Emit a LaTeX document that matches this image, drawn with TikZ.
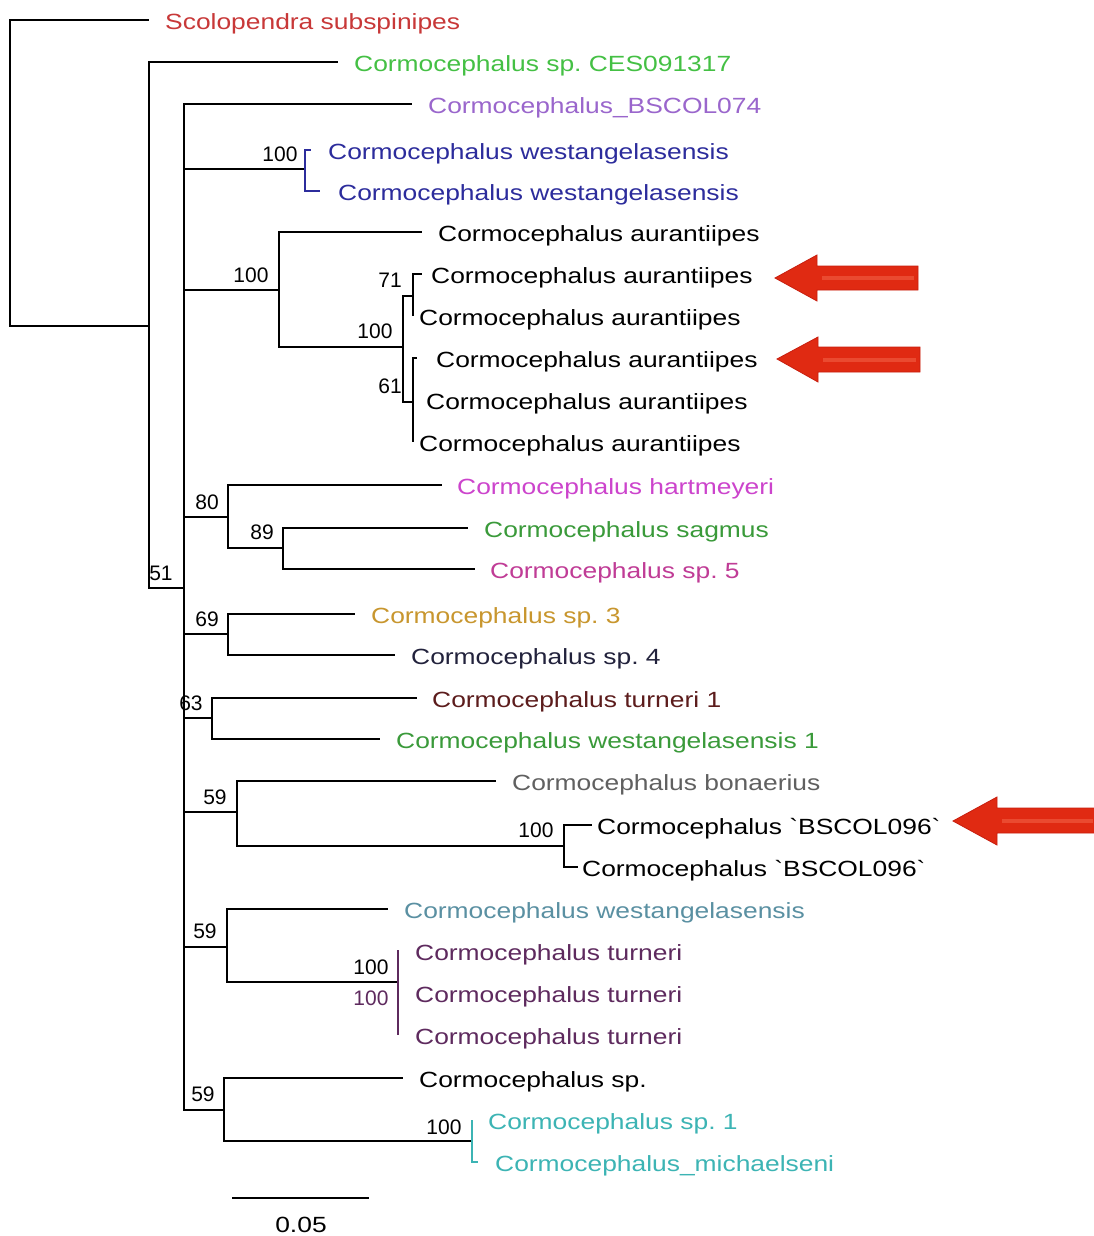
\documentclass[tikz,border=0pt]{standalone}
\usepackage{fontspec}
\setmainfont{Liberation Sans}[FakeStretch=1.2, Ligatures=TeXOff]
\newfontfamily\numfont{Liberation Sans}
\frenchspacing
\definecolor{cScol}{HTML}{C83838}
\definecolor{cCES}{HTML}{44C044}
\definecolor{cBsf}{HTML}{9A66CC}
\definecolor{cWblue}{HTML}{2C2C9C}
\definecolor{cHart}{HTML}{CC44CC}
\definecolor{cSag}{HTML}{3A9A3A}
\definecolor{cSpf}{HTML}{C03C96}
\definecolor{cSpt}{HTML}{C8962E}
\definecolor{cSpq}{HTML}{22223C}
\definecolor{cTuro}{HTML}{5C1C1C}
\definecolor{cWo}{HTML}{3A9A3A}
\definecolor{cBon}{HTML}{606060}
\definecolor{cWsteel}{HTML}{5A90A2}
\definecolor{cTur}{HTML}{5E2A5E}
\definecolor{cTeal}{HTML}{3CB4B4}
\definecolor{cArrow}{HTML}{E02A12}
\definecolor{cArrowEdge}{HTML}{C81E0E}
\definecolor{cArrowHi}{HTML}{EA4A30}
\tikzset{
  br/.style={line width=1.8pt, line join=miter},
  leaf/.style={anchor=base west, inner sep=0pt, font=\fontsize{22}{26}\selectfont},
  bs/.style={anchor=center, inner sep=0pt, font=\numfont\fontsize{21}{24}\selectfont},
  bigarrow/.style={fill=cArrow, draw=cArrowEdge, line width=0.8pt, line join=miter},
  arrowhi/.style={draw=cArrowHi, line width=4pt}
}
\begin{document}
\begin{tikzpicture}[x=1pt, y=-1pt]
\useasboundingbox (0,0) rectangle (1093,1236);
\fill[white] (0,0) rectangle (1093,1236);

% ---- internal nodes
\coordinate (r) at (10,173);
\coordinate (n1) at (149,326);
\coordinate (n2) at (184,588);
\coordinate (w) at (305,169);
\coordinate (au) at (279,290);
\coordinate (au2) at (403,347);
\coordinate (c71) at (413,296);
\coordinate (c61) at (413,402);
\coordinate (c80) at (228,517);
\coordinate (c89) at (283,548);
\coordinate (c69) at (228,634);
\coordinate (c63) at (212,718);
\coordinate (c59a) at (237,812);
\coordinate (cB) at (564,846);
\coordinate (c59b) at (227,947);
\coordinate (cT) at (398,982);
\coordinate (c59c) at (224,1110);
\coordinate (cS) at (472,1141);

% ---- tips
\coordinate (t1) at (149,20);
\coordinate (t2) at (338,62);
\coordinate (t3) at (412,104);
\coordinate (t4) at (311,150);
\coordinate (t5) at (320,191);
\coordinate (t6) at (422,232);
\coordinate (t7) at (422,274);
\coordinate (t8) at (413,316);
\coordinate (t9) at (417,358);
\coordinate (t10) at (413,400);
\coordinate (t11) at (413,442);
\coordinate (t12) at (442,485);
\coordinate (t13) at (468,528);
\coordinate (t14) at (475,569);
\coordinate (t15) at (355,614);
\coordinate (t16) at (395,655);
\coordinate (t17) at (417,698);
\coordinate (t18) at (380,739);
\coordinate (t19) at (496,781);
\coordinate (t20) at (592,825);
\coordinate (t21) at (578,867);
\coordinate (t22) at (388,909);
\coordinate (t23) at (398,950);
\coordinate (t25) at (398,1035);
\coordinate (t26) at (403,1078);
\coordinate (t27) at (472,1120);
\coordinate (t28) at (478,1162);

% ---- branches
\draw[br] (r) |- (t1);
\draw[br] (r) |- (n1);
\draw[br] (n1) |- (t2);
\draw[br] (n1) |- (n2);
\foreach \c in {t3,w,au,c80,c69,c63,c59a,c59b,c59c}
  \draw[br] (n2) |- (\c);
\draw[br, cWblue] (w) |- (t4);
\draw[br, cWblue] (w) |- (t5);
\draw[br] (au) |- (t6);
\draw[br] (au) |- (au2);
\draw[br] (au2) |- (c71);
\draw[br] (au2) |- (c61);
\draw[br] (c71) |- (t7);
\draw[br] (c71) |- (t8);
\draw[br] (c61) |- (t9);
\draw[br] (c61) |- (t11);
\draw[br] (c80) |- (t12);
\draw[br] (c80) |- (c89);
\draw[br] (c89) |- (t13);
\draw[br] (c89) |- (t14);
\draw[br] (c69) |- (t15);
\draw[br] (c69) |- (t16);
\draw[br] (c63) |- (t17);
\draw[br] (c63) |- (t18);
\draw[br] (c59a) |- (t19);
\draw[br] (c59a) |- (cB);
\draw[br] (cB) |- (t20);
\draw[br] (cB) |- (t21);
\draw[br] (c59b) |- (t22);
\draw[br] (c59b) |- (cT);
\draw[br, cTur] (t23) -- (t25);
\draw[br] (c59c) |- (t26);
\draw[br] (c59c) |- (cS);
\draw[br, cTeal] (cS) |- (t27);
\draw[br, cTeal] (cS) |- (t28);

% ---- leaf labels
\node[leaf, text=cScol] (L1) at (165,29.5) {Scolopendra subspinipes};
\node[leaf, text=cCES] (L2) at (354,71.5) {Cormocephalus sp. CES091317};
\node[leaf, text=cBsf] (L3) at (428,113.5) {Cormocephalus\_BSCOL074};
\node[leaf, text=cWblue] (L4) at (328,159.5) {Cormocephalus westangelasensis};
\node[leaf, text=cWblue] (L5) at (338,200.5) {Cormocephalus westangelasensis};
\node[leaf] (L6) at (438,241.5) {Cormocephalus aurantiipes};
\node[leaf] (L7) at (431,283.5) {Cormocephalus aurantiipes};
\node[leaf] (L8) at (419,325.5) {Cormocephalus aurantiipes};
\node[leaf] (L9) at (436,367.5) {Cormocephalus aurantiipes};
\node[leaf] (L10) at (426,409.5) {Cormocephalus aurantiipes};
\node[leaf] (L11) at (419,451.5) {Cormocephalus aurantiipes};
\node[leaf, text=cHart] (L12) at (457,494.5) {Cormocephalus hartmeyeri};
\node[leaf, text=cSag] (L13) at (484,537.5) {Cormocephalus sagmus};
\node[leaf, text=cSpf] (L14) at (490,578.5) {Cormocephalus sp. 5};
\node[leaf, text=cSpt] (L15) at (371,623.5) {Cormocephalus sp. 3};
\node[leaf, text=cSpq] (L16) at (411,664.5) {Cormocephalus sp. 4};
\node[leaf, text=cTuro] (L17) at (432,707.5) {Cormocephalus turneri 1};
\node[leaf, text=cWo] (L18) at (396,748.5) {Cormocephalus westangelasensis 1};
\node[leaf, text=cBon] (L19) at (512,790.5) {Cormocephalus bonaerius};
\node[leaf] (L20) at (597,834.5) {Cormocephalus `BSCOL096`};
\node[leaf] (L21) at (582,876.5) {Cormocephalus `BSCOL096`};
\node[leaf, text=cWsteel] (L22) at (404,918.5) {Cormocephalus westangelasensis};
\node[leaf, text=cTur] (L23) at (415,960.5) {Cormocephalus turneri};
\node[leaf, text=cTur] (L24) at (415,1002.5) {Cormocephalus turneri};
\node[leaf, text=cTur] (L25) at (415,1044.5) {Cormocephalus turneri};
\node[leaf] (L26) at (419,1087.5) {Cormocephalus sp.};
\node[leaf, text=cTeal] (L27) at (488,1129.5) {Cormocephalus sp. 1};
\node[leaf, text=cTeal] (L28) at (495,1171.5) {Cormocephalus\_michaelseni};

% ---- support values
\node[bs] (b1) at (280,154) {100};
\node[bs] (b2) at (251,275) {100};
\node[bs] (b3) at (375,331) {100};
\node[bs] (b4) at (390,280) {71};
\node[bs] (b5) at (390,386) {61};
\node[bs] (b6) at (207,502) {80};
\node[bs] (b7) at (262,532) {89};
\node[bs] (b8) at (161,573) {51};
\node[bs] (b9) at (207,619) {69};
\node[bs] (b10) at (191,703) {63};
\node[bs] (b11) at (215,797) {59};
\node[bs] (b12) at (536,830) {100};
\node[bs] (b13) at (205,931) {59};
\node[bs] (b14) at (371,967) {100};
\node[bs, text=cTur] (b15) at (371,998) {100};
\node[bs] (b16) at (203,1094) {59};
\node[bs] (b17) at (444,1127) {100};

% ---- scale bar
\coordinate (s1) at (232,1198);
\coordinate (s2) at (369,1198);
\draw[line width=1.8pt] (s1) -- (s2);
\node[leaf, anchor=base] (sl) at (301,1232) {0.05};

% ---- red arrows
\filldraw[bigarrow] (775,278) -- (817,255) -- (817,266) -- (918,266) -- (918,290) -- (817,290) -- (817,301) -- cycle;
\draw[arrowhi] (822,278) -- (914,278);
\filldraw[bigarrow] (777,359) -- (818,337) -- (818,347) -- (920,347) -- (920,372) -- (818,372) -- (818,382) -- cycle;
\draw[arrowhi] (823,359.5) -- (916,359.5);
\filldraw[bigarrow] (953,821) -- (997,797) -- (997,808) -- (1095,808) -- (1095,833) -- (997,833) -- (997,845) -- cycle;
\draw[arrowhi] (1002,820.5) -- (1093,820.5);
\end{tikzpicture}
\end{document}
